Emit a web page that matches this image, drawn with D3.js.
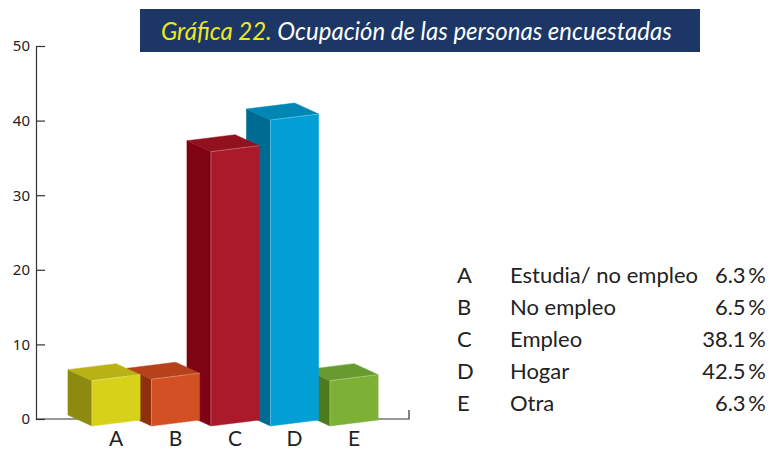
<!DOCTYPE html>
<html>
<head>
<meta charset="utf-8">
<script src="https://cdn.jsdelivr.net/npm/d3@7"></script>
<style>
  html, body { margin: 0; padding: 0; background: #fff; }
  svg { display: block; }
</style>
</head>
<body>
<svg id="chart" width="782" height="449"></svg>
<script>
// ---- data ----
const categories = ["A", "B", "C", "D", "E"];
const labels = ["Estudia/ no empleo", "No empleo", "Empleo", "Hogar", "Otra"];
const values = [6.3, 6.5, 38.1, 42.5, 6.3];
const yTicks = [0, 10, 20, 30, 40, 50];
const frontColors = ["#d7d11a", "#d35024", "#ab1a2a", "#029fd6", "#7db136"];
const sideColors  = ["#8e8a10", "#8f300b", "#7e0313", "#006b92", "#4e7a1e"];
const topColors   = ["#b8b215", "#b5421b", "#92111f", "#0086b4", "#689b2f"];
const titleLead = "Gráfica 22.";
const titleRest = " Ocupación de las personas encuestadas";

const svg = d3.select("#chart");

// ---- scales ----
const y = d3.scaleLinear().domain([0, 50]).range([419, 46]);          // axis
const yBar = d3.scaleLinear().domain([0, 50]).range([426, 66]);       // projected front face
const x = d3.scaleBand().domain(categories).range([86.3, 383.8])
  .paddingInner(0.19).paddingOuter(0.095);

// ---- title ----
svg.append("rect").attr("x", 140).attr("y", 9).attr("width", 560).attr("height", 43)
  .attr("fill", "#1c3666");
const title = svg.append("text").attr("x", 0).attr("y", 0)
  .attr("font-family", "Lato, 'Open Sans', sans-serif")
  .attr("font-style", "italic").attr("font-size", 26);
title.append("tspan").attr("fill", "#eee81f").text(titleLead);
title.append("tspan").attr("fill", "#ffffff").text(titleRest);
const natural = title.node().getComputedTextLength();
title.attr("transform", `translate(161,39.5) scale(${511 / natural},1)`);

// ---- axes ----
const axisG = svg.append("g").attr("transform", "translate(36,0)");
axisG.call(d3.axisLeft(y).tickValues(yTicks).tickSizeInner(-9).tickSizeOuter(0).tickPadding(6));
axisG.select(".domain").attr("stroke", "#333").attr("stroke-width", 1.2);
axisG.selectAll(".tick line").attr("stroke", "#333").attr("stroke-width", 1.2);
axisG.selectAll(".tick text")
  .attr("font-family", "'Noto Sans', 'DejaVu Sans', sans-serif")
  .attr("font-size", 15).attr("fill", "#222");

// baseline with end tick
const xEnd = 409;
svg.append("path")
  .attr("d", `M36,${y(0)}H${xEnd}V${y(0) - 9}`)
  .attr("fill", "none").attr("stroke", "#333").attr("stroke-width", 1.2);

// ---- 3D bars ----
const depth = [-24, -11];
const tilt = -6;
const w = x.bandwidth();
const barData = categories.map((c, i) => ({ c, v: values[i], i }));

const barsG = svg.append("g");
// draw right-to-left so left fronts cover right neighbours' sides
barData.slice().reverse().forEach(d => {
  const fx = x(d.c);
  const yb = yBar(0);
  const yt = yBar(d.v);
  const FLb = [fx, yb], FRb = [fx + w, yb + tilt];
  const FLt = [fx, yt], FRt = [fx + w, yt + tilt];
  const add = (p) => [p[0] + depth[0], p[1] + depth[1]];
  const g = barsG.append("g");
  const poly = (pts, fill) => g.append("polygon")
    .attr("points", pts.map(p => p.join(",")).join(" "))
    .attr("fill", fill)
    .attr("stroke", fill).attr("stroke-width", 0.5).attr("stroke-linejoin", "round");
  poly([FLb, FLt, add(FLt), add(FLb)], sideColors[d.i]);
  poly([FLt, FRt, add(FRt), add(FLt)], topColors[d.i]);
  poly([FLb, FRb, FRt, FLt], frontColors[d.i]);
  // subtle highlight edges
  g.append("path")
    .attr("d", `M${FLb}L${FLt}L${FRt}`)
    .attr("fill", "none").attr("stroke", "rgba(255,255,255,0.35)").attr("stroke-width", 0.8);
});

// ---- category labels ----
svg.append("g").selectAll("text").data(categories).join("text")
  .attr("x", d => x(d) + w / 2)
  .attr("y", 446)
  .attr("text-anchor", "middle")
  .attr("font-family", "Lato, 'Open Sans', sans-serif")
  .attr("font-size", 21).attr("fill", "#222")
  .text(d => d);

// ---- legend ----
const leg = svg.append("g")
  .attr("font-family", "Lato, 'Open Sans', sans-serif")
  .attr("font-size", 22).attr("fill", "#222");
const rowY = d3.scalePoint().domain(categories).range([283, 411]);
categories.forEach((c, i) => {
  leg.append("text").attr("x", 457).attr("y", rowY(c)).text(c);
  leg.append("text").attr("x", 510).attr("y", rowY(c)).text(labels[i]);
  leg.append("text").attr("x", 766).attr("y", rowY(c)).attr("text-anchor", "end")
    .text(d3.format(".1f")(values[i]) + "\u2009%");
});
</script>
</body>
</html>
